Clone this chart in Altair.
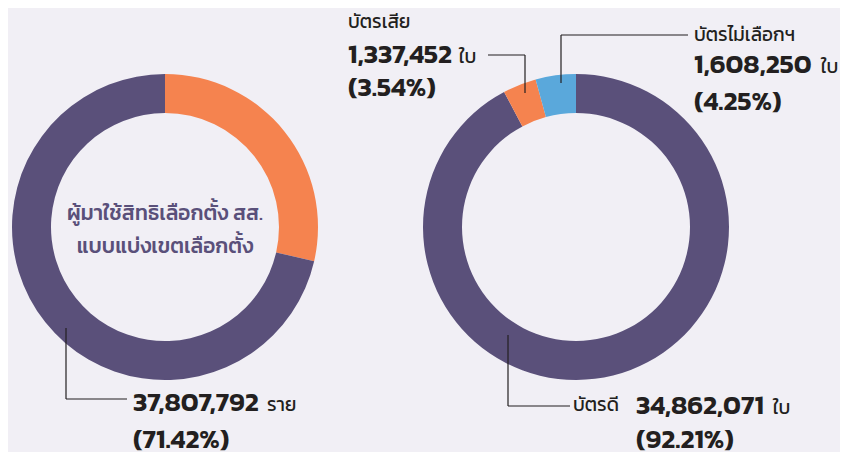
import altair as alt
import pandas as pd

# ---- data ----
left_cats = ["ไม่มาใช้สิทธิ", "มาใช้สิทธิ"]
left_pct = [28.58, 71.42]
left_colors = ["#F5834F", "#5A507A"]

right_cats = ["บัตรดี", "บัตรเสีย", "บัตรไม่เลือกฯ"]
right_pct = [92.21, 3.54, 4.25]
right_counts = ["34,862,071", "1,337,452", "1,608,250"]
right_colors = ["#5A507A", "#F5834F", "#5AA8DB"]

turnout_count = "37,807,792"
turnout_pct = "71.42"

center_lines = ["ผู้มาใช้สิทธิเลือกตั้ง สส.", "แบบแบ่งเขตเลือกตั้ง"]

BG = "#F1EFF5"
PURPLE = "#5A507A"
FONT = "Kanit, Prompt, 'Noto Sans Thai', 'Noto Sans Thai Looped', Roboto, sans-serif"

left_df = pd.DataFrame({"cat": left_cats, "pct": left_pct, "color": left_colors,
                        "o": list(range(len(left_cats)))})
right_df = pd.DataFrame({"cat": right_cats, "pct": right_pct, "color": right_colors,
                         "o": list(range(len(right_cats)))})

OUTER, INNER = 153, 114


def donut(df, cx, cy):
    return alt.Chart(df).mark_arc(outerRadius=OUTER, innerRadius=INNER, stroke=None).encode(
        theta=alt.Theta("pct:Q", stack=True),
        order=alt.Order("o:Q"),
        color=alt.Color("color:N", scale=None),
        x=alt.value(cx), y=alt.value(cy),
    )


one = pd.DataFrame({"a": [0]})


def txt(s, x, y, size, weight="normal", color="#231F20", align="left"):
    return alt.Chart(one).mark_text(
        text=s, fontSize=size, fontWeight=weight, color=color, align=align,
        baseline="middle", font=FONT,
    ).encode(x=alt.value(x), y=alt.value(y))


def rule(x1, y1, x2, y2):
    return alt.Chart(one).mark_rule(color="#231F20", strokeWidth=1.2).encode(
        x=alt.value(x1), y=alt.value(y1), x2=alt.value(x2), y2=alt.value(y2))


NUM = 27
NW = 600
TH = 19
O = 8  # page margin offset
layers = [
    donut(left_df, 165 - O, 227 - O),
    donut(right_df, 576 - O, 227 - O),
    # centre text
    txt(center_lines[0], 165 - O, 214 - O, 21, 500, color=PURPLE, align="center"),
    txt(center_lines[1], 165 - O, 247 - O, 21, 500, color=PURPLE, align="center"),
    # left label
    rule(66 - O, 328 - O, 66 - O, 399 - O),
    rule(66 - O, 399 - O, 127 - O, 399 - O),
    txt(turnout_count, 133 - O, 403 - O, NUM, NW),
    txt("ราย", 267 - O, 405 - O, TH),
    txt(f"({turnout_pct}%)", 133 - O, 440 - O, NUM, NW),
    # spoiled
    txt(right_cats[1], 348 - O, 22 - O, TH),
    txt(right_counts[1], 348 - O, 55 - O, NUM, NW),
    txt("ใบ", 459 - O, 57 - O, TH),
    txt(f"({right_pct[1]}%)", 348 - O, 88 - O, NUM, NW),
    rule(488 - O, 55 - O, 525 - O, 55 - O),
    rule(525 - O, 55 - O, 525 - O, 93 - O),
    # no vote
    txt(right_cats[2], 694 - O, 35 - O, TH),
    txt(right_counts[2], 694 - O, 65 - O, NUM, NW),
    txt("ใบ", 821 - O, 67 - O, TH),
    txt(f"({right_pct[2]}%)", 694 - O, 102 - O, NUM, NW),
    rule(561 - O, 35 - O, 688 - O, 35 - O),
    rule(561 - O, 35 - O, 561 - O, 83 - O),
    # good
    rule(508 - O, 335 - O, 508 - O, 406 - O),
    rule(508 - O, 406 - O, 570 - O, 406 - O),
    txt(right_cats[0], 573 - O, 405 - O, TH),
    txt(right_counts[0], 636 - O, 406 - O, NUM, NW),
    txt("ใบ", 773 - O, 408 - O, TH),
    txt(f"({right_pct[0]}%)", 636 - O, 440 - O, NUM, NW),
]

chart = alt.layer(*layers).properties(
    width=832, height=444, padding=0, autosize=alt.AutoSizeParams(type="none"),
    background=BG,
).configure_view(stroke=None)

chart.save("out.html", embed_options={"renderer": "svg", "actions": False})
